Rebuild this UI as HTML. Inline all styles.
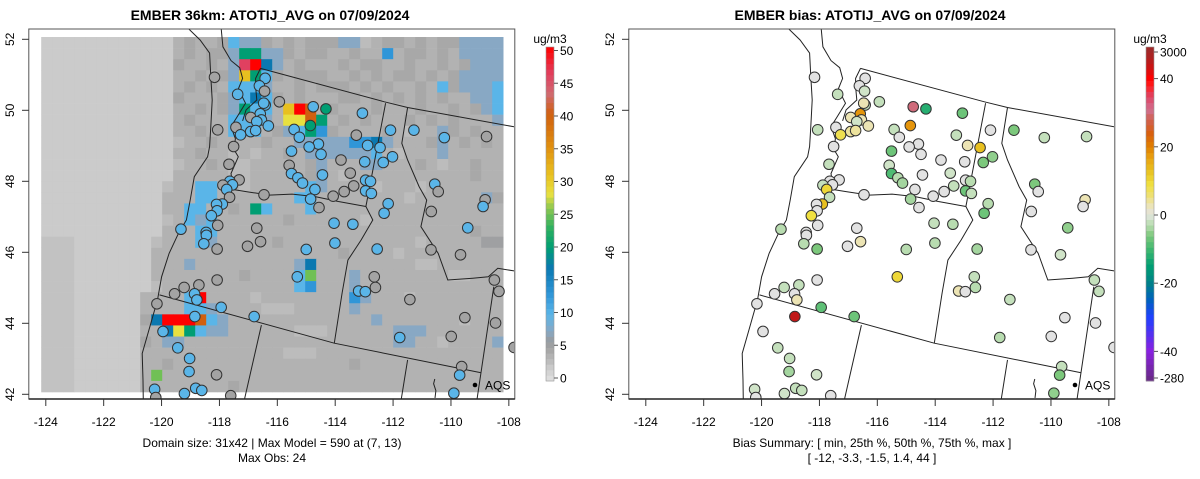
<!DOCTYPE html>
<html><head><meta charset="utf-8"><style>
html,body{margin:0;padding:0;background:#fff;}
svg{display:block;font-family:"Liberation Sans",sans-serif;}
</style></head><body>
<svg id="chart" width="1200" height="479" viewBox="0 0 1200 479" xmlns="http://www.w3.org/2000/svg"></svg>
<script>
// ---------- DATA ----------
const siteLons = [-118.17,-116.42,-116.62,-116.44,-117.37,-115.93,-116.42,-116.47,-114.76,-114.32,-113.06,-116.59,-116.92,-116.55,-116.71,-114.86,-117.43,-116.31,-118.06,-117.27,-116.92,-116.75,-115.42,-115.24,-113.27,-112.09,-111.28,-110.23,-108.77,-117.51,-115.51,-114.58,-114.90,-114.49,-112.88,-112.45,-113.80,-112.98,-112.34,-112.02,-117.67,-115.59,-113.48,-115.51,-115.29,-114.44,-115.13,-117.32,-117.64,-117.55,-117.88,-117.75,-112.95,-112.78,-113.36,-112.95,-112.75,-114.70,-113.69,-117.65,-116.46,-114.07,-114.85,-110.56,-110.44,-117.90,-118.10,-118.08,-112.17,-114.56,-108.82,-108.89,-112.31,-118.28,-110.68,-118.06,-114.04,-113.39,-119.33,-116.71,-109.42,-118.46,-118.45,-118.54,-116.58,-117.03,-114.01,-118.08,-115.00,-112.55,-110.69,-109.67,-118.08,-115.31,-112.65,-108.50,-119.22,-118.71,-118.86,-118.78,-119.55,-113.19,-112.96,-112.61,-111.42,-108.34,-120.16,-117.94,-118.85,-116.80,-109.52,-108.46,-119.95,-111.77,-109.99,-107.82,-119.44,-119.03,-109.63,-119.05,-118.10,-109.70,-120.24,-119.21,-118.82,-118.61,-109.90,-117.61,-120.20];
const siteLats = [50.93,50.90,50.69,50.54,50.45,50.24,50.15,50.20,50.10,50.04,49.92,49.90,49.80,49.73,49.68,49.57,49.52,49.56,49.45,49.31,49.40,49.43,49.46,49.24,49.30,49.44,49.44,49.23,49.26,48.98,48.85,49.05,48.97,48.76,49.01,48.95,48.60,48.55,48.53,48.69,48.48,48.45,48.23,48.22,48.10,48.18,47.95,48.04,48.00,47.90,47.89,47.77,48.03,48.00,47.87,47.73,47.66,47.77,47.71,47.55,47.62,47.58,47.50,47.92,47.71,47.36,47.35,47.17,47.37,47.26,47.48,47.29,47.10,47.03,47.15,46.76,46.82,46.79,46.65,46.68,46.69,46.56,46.48,46.24,46.30,46.17,46.26,46.09,46.08,46.09,46.07,45.93,45.22,45.31,45.31,45.22,45.01,45.08,44.83,44.66,44.83,44.91,44.89,45.01,44.67,44.90,44.55,44.45,44.19,44.19,44.16,44.01,43.77,43.60,43.63,43.32,43.31,43.01,42.78,42.64,42.55,42.54,42.14,42.02,42.17,42.11,42.03,41.96,41.91];
const siteObs = [5,10,10,5,10,5,10,10,10,20,10,10,5,10,10,20,5,10,5,10,10,10,10,10,5,10,10,10,5,5,10,10,10,10,10,10,5,10,10,10,5,5,5,10,10,10,10,5,10,10,5,10,10,10,5,10,10,10,5,5,5,5,10,10,5,10,10,10,10,5,5,10,10,10,5,5,10,10,10,5,10,10,10,10,5,5,10,5,10,10,5,5,5,10,5,5,5,5,10,10,5,10,10,5,5,5,5,10,10,10,5,5,10,10,5,5,10,10,5,10,5,10,10,10,10,10,10,5,5];
const siteBias = [0,0,0,-1,-2,-2,-2,3,30,-12,-7,18,3,3,-1,18,0,3,-2,8,4,4,-2,0,-2,0,-6,-2,-2,0,-7,0,0,0,3,13,0,0,-6,-5,-2,-1,-1,-9,-3,0,-4,0,0,0,-2,10,0,-3,-2,-7,-2,0,0,-2,0,0,-4,-6,0,13,0,0,-3,0,3,0,-7,9,0,0,-2,-3,-3,0,-5,0,0,-3,3,0,-3,-6,-3,-4,0,-1,0,10,-2,-2,-2,-2,0,3,0,3,0,-3,-2,-2,0,-8,44,-7,0,0,0,-3,0,0,-2,-2,-2,-4,-1,-6,-1,-1,-2,-2,-5,0,0];
// model grid: codes per cell (42 columns x 32 rows)
const gridCodeValues = {'.':2,',':2.6,'a':3,'b':3.8,'c':4.6,'d':5.4,'s':7.5,'l':10,'B':13,'D':17,'t':20,'g':25,'y':28,'Y':31,'O':40,'P':46,'R':50};
const gridRows = [
"............bcbbcbcccbcbcccbaabccbcbcccccc",
"............bcbccbcbcbcbccbbcbbcbccbcbcccc",
"............cbbcbcbcccbcbbbcbccbbcbbcbcccc",
"............bbcbcbbcbcbcccbbcbcbccbcbcbccc",
"............bcbcbbcbabbcbcccbcbcbbcbbcbccc",
"............cbbbcbbabcbcbbbccbcbcbcbcbbbcc",
"............bbcbcbcbbbcbcbcbbbcbbbcbbcbcbc",
"............bcbbbbcbcbbcbbbcbcbbbcbcbcbbbc",
"............bbcbbbcbbcbbcbcbbbbcbabbbcbcbb",
"............abbcbbbbcbbcbcbbbcbbbbbcbbcbcb",
"............bbcbbababbcbbbbcbbbbabbbcbbbbb",
"............abbcbaabbbbbcbbbbabbbbcbabbcbb",
"............bbbbbaabbbbbcbbabbbbbbbbbbbcbb",
"...........abbbbbbabbbbbbbbbbbabbbabbbbbbb",
"...........bbbbbbbbbbbbcbbbbbbbbbabbbbbbbc",
"...........bbbbbbcbbbbbbbbbbbbbbbbbbbbbbbb",
"...........abbbbbbbbbbcbbbbbbabbbbbbbbbbbb",
"...........bbbbbbbbbbbbbbbbbbbbbbbbbbbbcbb",
",,,.......abbbcbbbbbbcbbbbbbbbbbbbabbbbbdd",
",,,.......bbbbbbbbbbbbbbbbbcbbbbabbbbbbbbb",
",,,.......bbbcbbbbbbbbbbbbbbbbbbbbaabbbbbb",
",,,.......bbbbbbbbcbbbbbbbbbbbbbbbbbbaabbb",
",,,.......abbbbbbbbbbbbbbbbbbbbbbbbbbbbbbb",
",,,......bbbbbbbbbbabbbbbbbbbbbbbabbbbbbbb",
",,,......bbbbbbbbbbbaaabbbbbbbbbbbbbbbbbbb",
",,,......cbbbbbbbbbbbbbbbbbbbbbbbbbbbbabbb",
",,,......bbbbbbbbbbbbbbaaabbbbbbcbbbbbbbbb",
",,,......cbbbbbbbbbbbbbbbbbbbbbbbbbbabbbbs",
",,,......bbbbbbbbbbbbbaaabbbbbbbbbbbbbbbbb",
",,,......bbcbbbbbbbbbbbbbbbbcbbbbbbbbbbbbb",
",,,......bbbbbbbbbbbbbbbbbbbbbbbbbbbbbbbbb",
",,,......bbbbbbbbcbbbbbbbbbbbbbbbbbbbbbbbb"];
const gridFeatures = [
[0,17,'l'],[0,18,'s'],[0,19,'s'],[0,27,'s'],[0,28,'s'],[0,38,'s'],[0,39,'s'],[0,40,'s'],[0,41,'s'],
[1,17,'s'],[1,18,'t'],[1,19,'t'],[1,20,'s'],[1,21,'s'],[1,31,'B'],[1,38,'s'],[1,39,'s'],[1,40,'s'],[1,41,'s'],
[2,17,'s'],[2,18,'P'],[2,19,'R'],[2,20,'D'],[2,21,'s'],[2,39,'s'],[2,40,'s'],[2,41,'s'],
[3,17,'s'],[3,18,'Y'],[3,19,'t'],[3,20,'l'],[3,38,'s'],[3,39,'s'],[3,40,'s'],[3,41,'s'],
[4,17,'l'],[4,18,'l'],[4,19,'l'],[4,20,'s'],[4,36,'l'],[4,38,'s'],[4,39,'s'],[4,40,'s'],[4,41,'l'],
[5,17,'s'],[5,18,'l'],[5,19,'D'],[5,20,'l'],[5,39,'s'],[5,40,'s'],[5,41,'l'],
[6,17,'s'],[6,18,'t'],[6,19,'l'],[6,20,'l'],[6,22,'Y'],[6,23,'R'],[6,24,'O'],[6,40,'s'],[6,41,'l'],
[7,17,'l'],[7,18,'l'],[7,19,'l'],[7,20,'s'],[7,22,'y'],[7,23,'y'],[7,24,'O'],[7,25,'t'],[7,41,'s'],
[8,17,'l'],[8,18,'l'],[8,19,'l'],[8,22,'s'],[8,23,'l'],[8,24,'t'],[8,25,'B'],[8,36,'s'],
[9,23,'s'],[9,24,'s'],[9,25,'s'],[9,26,'s'],[9,27,'s'],[9,28,'B'],[9,29,'B'],[9,30,'D'],[9,31,'s'],[9,36,'s'],
[10,24,'s'],[10,25,'s'],[10,26,'s'],[10,27,'s'],[10,28,'s'],[10,29,'s'],[10,30,'l'],[10,36,'s'],
[11,25,'s'],[11,29,'s'],[11,30,'s'],[12,25,'s'],
[13,14,'l'],[13,15,'l'],[13,24,'l'],[13,25,'s'],
[14,14,'l'],[14,15,'l'],[14,23,'l'],[14,24,'l'],[14,40,'s'],
[15,13,'l'],[15,14,'l'],[15,19,'t'],[15,20,'l'],[15,24,'l'],
[16,13,'l'],[16,14,'s'],[16,15,'l'],[17,14,'l'],[17,15,'l'],[18,14,'l'],[18,15,'s'],
[20,13,'s'],[20,23,'s'],[20,24,'D'],[21,23,'l'],[21,24,'g'],[21,28,'s'],
[22,23,'l'],[22,24,'B'],[22,28,'s'],[23,13,'l'],[23,14,'R'],[23,28,'B'],[23,29,'s'],
[24,13,'l'],[24,14,'l'],[24,15,'s'],[24,28,'s'],
[25,10,'D'],[25,11,'R'],[25,12,'R'],[25,13,'R'],[25,14,'O'],[25,15,'l'],[25,16,'s'],[25,30,'s'],
[26,11,'D'],[26,12,'y'],[26,13,'t'],[26,14,'l'],[26,15,'s'],[26,16,'s'],[26,32,'s'],[26,33,'s'],[26,34,'s'],
[27,11,'s'],[27,12,'s'],[27,32,'s'],[27,33,'s'],[27,41,'s'],
[30,10,'g']];
const lonTicks = [-124,-122,-120,-118,-116,-114,-112,-110,-108];
const latTicks = [42,44,46,48,50,52];
const obsTicks = [0,5,10,15,20,25,30,35,40,45,50];
const biasTickLabels = ['3000','40','20','0','-20','-40','-280'];
const biasTickValues = [48,40,20,0,-20,-40,-48];

// geography (lon/lat)
const geoLines = [
 [[-119.07,52.3],[-118.67,51.98],[-118.34,51.61],[-118.3,50.95],[-118.25,50.29],[-118.3,49.54],[-118.34,48.98],[-118.41,48.69],[-118.87,48.13],[-119.01,47.47],[-119.14,46.91],[-119.41,46.54],[-119.74,45.97],[-120.0,45.31],[-120.14,44.66],[-120.47,43.72],[-120.67,43.15],[-120.64,42.4],[-120.63,41.8]],
 [[-117.94,52.3],[-117.88,51.79],[-117.6,51.4],[-117.3,51.2],[-117.2,50.9],[-117.35,50.6],[-117.1,50.2],[-117.4,49.8],[-117.6,49.54],[-117.45,49.2],[-117.5,48.9],[-117.35,48.69],[-117.6,48.22],[-117.55,47.95],[-117.7,47.75]],
 [[-116.58,51.18],[-116.75,50.9],[-116.75,50.67],[-116.71,50.29],[-117.08,50.01],[-117.2,49.7]],
 [[-116.58,51.18],[-112.3,50.24],[-111.5,50.08],[-107.78,49.53]],
 [[-112.26,50.2],[-112.94,47.29]],
 [[-117.61,47.78],[-117.08,47.71],[-116.28,47.61],[-115.49,47.64],[-114.69,47.57],[-113.89,47.43],[-112.94,47.29]],
 [[-112.94,47.29],[-112.7,46.91],[-113.1,46.35],[-113.56,45.78],[-113.76,44.85],[-114.03,43.44]],
 [[-120.07,44.8],[-114.03,43.44],[-108.98,42.61]],
 [[-116.55,43.95],[-117.15,41.8]],
 [[-111.5,42.97],[-111.73,41.8]],
 [[-111.5,50.08],[-111.7,49.07],[-111.5,48.6],[-111.1,47.85],[-110.84,47.47],[-111.04,46.72],[-110.44,45.97],[-110.11,45.22],[-109.25,45.27],[-108.71,45.31],[-108.38,45.55],[-107.78,45.47]],
 [[-108.52,45.03],[-109.11,41.8]],
 [[-110.56,42.43],[-110.6,42.3],[-110.52,42.1],[-110.55,41.9]]
];

// ---------- SCALES ----------
const NS='http://www.w3.org/2000/svg';
const svg=document.getElementById('chart');
function mk(tag,attrs,parent){const e=document.createElementNS(NS,tag);for(const k in attrs)e.setAttribute(k,attrs[k]);(parent||svg).appendChild(e);return e;}
function xOf(lon,ox){return ox+45.8+(lon+124)*28.94;}
function yOf(lat){return 39.3+(52-lat)*35.5;}
function hex(c){return [parseInt(c.slice(1,3),16),parseInt(c.slice(3,5),16),parseInt(c.slice(5,7),16)];}
function interp(stops,v){
  if(v<=stops[0][0])return stops[0][1];
  for(let i=1;i<stops.length;i++){if(v<=stops[i][0]){const a=stops[i-1],b=stops[i];const t=(v-a[0])/(b[0]-a[0]);const A=hex(a[1]),B=hex(b[1]);return 'rgb('+A.map((x,j)=>Math.round(x+(B[j]-x)*t)).join(',')+')';}}
  return stops[stops.length-1][1];
}
const obsStops=[[0,'#e2e2e2'],[2,'#cbcbcb'],[3,'#bcbcbc'],[4,'#b0b0b0'],[5,'#a3a3a3'],[6,'#989ca0'],[7.5,'#88a8c4'],[10,'#5ab5e8'],[13,'#3096d8'],[17,'#0a78b0'],[20,'#009e73'],[23,'#30b060'],[26,'#90c850'],[28,'#e8e040'],[31,'#e8c020'],[35,'#e09010'],[40,'#d06010'],[43,'#d06a70'],[46,'#e04060'],[50,'#ff0000']];
const biasStops=[[-48,'#6a2a8a'],[-40,'#8a20e0'],[-30,'#2040ff'],[-25,'#0060c0'],[-20,'#00808a'],[-15,'#009e73'],[-10,'#40b870'],[-6,'#7cc87c'],[-3,'#b8dcb0'],[-1,'#d0e4c8'],[0,'#e2e2e2'],[3,'#ece4b4'],[6,'#eee070'],[9,'#f0e040'],[13,'#e8c020'],[17,'#e8a010'],[20,'#e08000'],[24,'#d86010'],[28,'#d06050'],[31,'#d07090'],[35,'#e04060'],[38,'#ff2020'],[40,'#ff0000'],[44,'#c01818'],[48,'#a02828']];
function obsColor(v){return interp(obsStops,v);}
function biasColor(v){return interp(biasStops,v);}

// ---------- DRAW ----------
function drawPanel(ox,title,isBias){
  const g=mk('g',{});
  
  
  const clipId='clip'+ox;
  const cp=mk('clipPath',{id:clipId},g);mk('rect',{x:ox+29,y:29.5,width:485,height:369},cp);
  const plot=mk('g',{'clip-path':'url(#'+clipId+')'},g);
  
  
  if(!isBias){
    const cw=11,ch=355/32;
    const field=mk('g',{},plot);
    
    
    const codes=gridRows.map(r=>{let s=r;while(s.length<42)s+='b';return s.slice(0,42).split('');});
    gridFeatures.forEach(f=>{codes[f[0]][f[1]]=f[2];});
    codes.forEach((row,r)=>row.forEach((c,ci)=>{
      const cell=mk('rect',{x:ox+41.2+ci*cw,y:37+r*ch,width:cw+0.3,height:ch+0.3,fill:obsColor(gridCodeValues[c])},field);
      
      
    }));
  }
  const geo=mk('g',{fill:'none',stroke:'#222','stroke-width':1},plot);
  
  
  geoLines.forEach(l=>{mk('path',{d:'M'+l.map(p=>xOf(p[0],ox).toFixed(1)+','+yOf(p[1]).toFixed(1)).join('L')},geo);});
  const pts=mk('g',{},plot);
  
  
  siteLons.forEach((lon,i)=>{
    const fill=isBias?biasColor(siteBias[i]):obsColor(siteObs[i]);
    const c=mk('circle',{cx:xOf(lon,ox),cy:yOf(siteLats[i]),r:5.3,fill:fill,stroke:'#333','stroke-width':1},pts);
    
    
  });
  // AQS legend
  const lg=mk('g',{},g);
  
  
  mk('circle',{cx:ox+475,cy:385,r:2.3,fill:'#000'},lg);
  const lt=mk('text',{x:ox+485,y:389.5,'font-size':12,fill:'#000'},lg);lt.textContent='AQS';
  // box
  const box=mk('rect',{x:ox+28.8,y:29,width:486,height:370,fill:'none',stroke:'#555','stroke-width':1},g);
  
  
  mk('line',{x1:ox+28.8,x2:ox+514.8,y1:399,y2:399,stroke:'#222','stroke-width':1.5},g);
  // x axis
  const xa=mk('g',{},g);
  
  
  lonTicks.forEach(t=>{const x=xOf(t,ox);mk('line',{x1:x,x2:x,y1:399,y2:406,stroke:'#333'},xa);
    const tx=mk('text',{x:x,y:426,'font-size':12,'text-anchor':'middle',fill:'#000'},xa);tx.textContent=t;
    });
  const ya=mk('g',{},g);
  
  
  latTicks.forEach(t=>{const y=yOf(t);mk('line',{x1:ox+22,x2:ox+28.8,y1:y,y2:y,stroke:'#333'},ya);
    const tx=mk('text',{x:ox+14,y:y,'font-size':12,'text-anchor':'middle',fill:'#000',transform:'rotate(-90 '+(ox+14)+' '+y+')'},ya);tx.textContent=t;
    });
  const tt=mk('text',{x:ox+270,y:20,'font-size':14,'font-weight':'bold','text-anchor':'middle',fill:'#000'},g);tt.textContent=title;
  
  // colorbar
  const cb=mk('g',{},g);
  
  
  const bx=isBias?ox+546:ox+546, top=47, bot=381, n=60;
  for(let k=0;k<n;k++){
    const f=(k+0.5)/n; // from bottom
    let col;
    if(isBias){ // position to value: -48..48 piecewise
      const y=bot-f*(bot-top);
      let v; if(y>351) v=-40-(y-351)/27*8; else if(y<78) v=40+(78-y)/27*8; else v=(215-y)/3.41;
      col=biasColor(v);
    } else col=obsColor(f*50);
    mk('rect',{x:bx,y:bot-(k+1)*(bot-top)/n,width:8,height:(bot-top)/n+0.4,fill:col},cb);
  }
  mk('rect',{x:bx,y:top,width:8,height:bot-top,fill:'none',stroke:'#999','stroke-width':0.6},cb);
  const ut=mk('text',{x:bx+4,y:43,'font-size':12,'text-anchor':'middle',fill:'#000'},cb);ut.textContent='ug/m3';
  if(!isBias){
    obsTicks.forEach(t=>{const y=378-(t/50)*327.5;mk('line',{x1:bx+8,x2:bx+12,y1:y,y2:y,stroke:'#555'},cb);
      const tx=mk('text',{x:bx+14,y:y+4.5,'font-size':12,fill:'#000'},cb);tx.textContent=t;
      });
  } else {
    biasTickValues.forEach((v,i)=>{let y; if(v>=48) y=52; else if(v<=-48) y=378; else y=215-v*3.41;
      mk('line',{x1:bx+8,x2:bx+12,y1:y,y2:y,stroke:'#555'},cb);
      const tx=mk('text',{x:bx+14,y:y+4.5,'font-size':12,fill:'#000'},cb);tx.textContent=biasTickLabels[i];
      });
  }
}
drawPanel(0,'EMBER 36km: ATOTIJ_AVG on 07/09/2024',false);
drawPanel(600,'EMBER bias: ATOTIJ_AVG on 07/09/2024',true);
function note(x,y,s,name){const t=mk('text',{x:x,y:y,'font-size':12,'text-anchor':'middle',fill:'#000'});t.textContent=s;
  
  }
note(272,447,'Domain size: 31x42 | Max Model = 590 at (7, 13)','domain-summary');
note(272,462,'Max Obs: 24','max-obs-note');
note(872,447,'Bias Summary: [ min, 25th %, 50th %, 75th %, max ]','bias-summary-header');
note(872,462,'[ -12,   -3.3,   -1.5,   1.4,   44 ]','bias-summary-values');
</script>
</body></html>
